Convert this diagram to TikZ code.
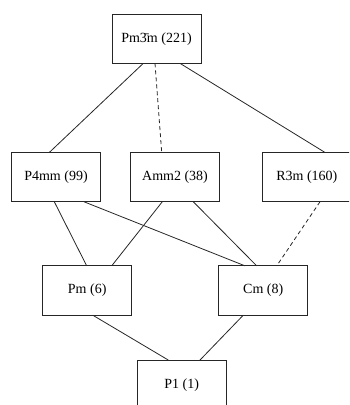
\documentclass[tikz,border=0pt]{standalone}
\usepackage{fontspec}
\setmainfont{Liberation Serif}
\begin{document}
\begin{tikzpicture}[x=1pt,y=-1pt,
  grp/.style={draw=black!85,line width=0.8pt,minimum width=89pt,minimum height=49.3pt,
    inner sep=0pt,outer sep=0pt,font=\fontsize{14}{16}\selectfont},
  link/.style={draw=black!85,line width=0.8pt},
  sublink/.style={link,dash pattern=on 4pt off 3pt}]
\useasboundingbox (0,0) rectangle (349,405);
\clip (0,0) rectangle (349,405);
\node[grp] (top)  at (156.5,38.7)  {Pm\={3}m (221)};
\node[grp] (p4mm) at (56,177.1)    {P4mm (99)};
\node[grp] (amm2) at (175,177.1)   {Amm2 (38)};
\node[grp] (r3m)  at (306.8,177.1) {R3m (160)};
\node[grp] (pm)   at (87.2,290.5)  {Pm (6)};
\node[grp] (cm)   at (263.2,290.5) {Cm (8)};
\node[grp] (p1)   at (181.7,384.7) {P1 (1)};
\draw[link]    ([xshift=-13.2pt]top.south)  -- ([xshift=-6.7pt]p4mm.north);
\draw[sublink] ([xshift=-1.5pt]top.south)   -- ([xshift=-13.3pt]amm2.north);
\draw[link]    ([xshift=23.5pt]top.south)   -- ([xshift=18.2pt]r3m.north);
\draw[link]    ([xshift=-1.7pt]p4mm.south)  -- ([xshift=-0.5pt]pm.north);
\draw[link]    ([xshift=28pt]p4mm.south)    -- ([xshift=-18.2pt]cm.north);
\draw[link]    ([xshift=-12.7pt]amm2.south) -- ([xshift=24.5pt]pm.north);
\draw[link]    ([xshift=18.3pt]amm2.south)  -- ([xshift=-6.5pt]cm.north);
\draw[sublink] ([xshift=13.2pt]r3m.south)   -- ([xshift=13.5pt]cm.north);
\draw[link]    ([xshift=5.5pt]pm.south)     -- ([xshift=-13.4pt]p1.north);
\draw[link]    ([xshift=-19.9pt]cm.south)   -- ([xshift=18.3pt]p1.north);
\end{tikzpicture}
\end{document}
